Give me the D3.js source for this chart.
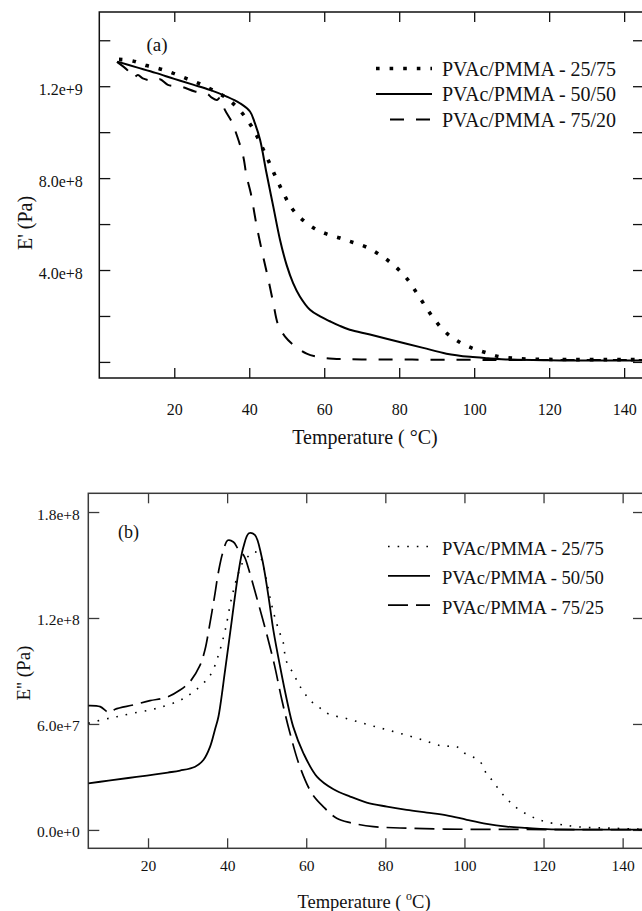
<!DOCTYPE html>
<html>
<head>
<meta charset="utf-8">
<script src="https://cdn.jsdelivr.net/npm/d3@7"></script>
<style>
  body { margin: 0; background: #fff; }
  svg { display: block; }
  text { font-family: "Liberation Serif", "Times New Roman", serif; fill: #111; }
</style>
</head>
<body>
<svg id="chart" width="642" height="911"></svg>
<script>
const SERIF = "'Liberation Serif', 'Times New Roman', serif";

// ---- (a) storage modulus E' (Pa) vs temperature (°C) ----
const tA_25_75 = [5.25, 8.9, 12.6, 16.2, 19.6, 23.3, 26.7, 30.1, 33.8, 37.2, 40.2, 42.1, 43.9, 45.6, 47.3, 49.1, 51.0, 53.7, 57.2, 60.6, 64.2, 67.7, 71.5, 75.1, 78.4, 81.8, 84.4, 86.7, 89.3, 92.3, 95.7, 99.3, 102.8, 106.4, 110, 113.7, 120, 130, 145.3];
const eA_25_75 = [1.317e9, 1.310e9, 1.290e9, 1.275e9, 1.257e9, 1.233e9, 1.211e9, 1.184e9, 1.150e9, 1.100e9, 1.036e9, 0.981e9, 0.919e9, 0.858e9, 0.796e9, 0.735e9, 0.677e9, 0.626e9, 0.583e9, 0.557e9, 0.539e9, 0.520e9, 0.498e9, 0.463e9, 0.423e9, 0.368e9, 0.307e9, 0.249e9, 0.187e9, 0.130e9, 0.090e9, 0.061e9, 0.042e9, 0.024e9, 0.017e9, 0.013e9, 0.011e9, 0.010e9, 0.010e9];

const tA_50_50 = [4.8, 10, 15, 20, 25, 29.5, 34, 37.5, 40.2, 41.5, 42.9, 44.6, 46.4, 48.2, 50, 51.7, 53.5, 56.2, 58.9, 61.5, 64, 66.8, 72.2, 79.3, 86.4, 92.6, 98.9, 103.7, 110, 120, 130, 145.3];
const eA_50_50 = [1.307e9, 1.282e9, 1.258e9, 1.232e9, 1.207e9, 1.184e9, 1.155e9, 1.126e9, 1.090e9, 1.039e9, 0.966e9, 0.822e9, 0.677e9, 0.532e9, 0.420e9, 0.343e9, 0.285e9, 0.227e9, 0.198e9, 0.177e9, 0.158e9, 0.140e9, 0.119e9, 0.090e9, 0.061e9, 0.036e9, 0.022e9, 0.016e9, 0.010e9, 0.007e9, 0.006e9, 0.006e9];

const tA_75_20 = [4.7, 7.7, 9.0, 10.3, 11.6, 14.9, 16.2, 18.3, 22, 25.5, 28.7, 30, 31.4, 32.2, 33.5, 35.3, 36.8, 38.4, 39.3, 40.4, 42, 43.7, 45.1, 46.4, 47.7, 49.5, 51.7, 55.3, 58.9, 62.4, 70, 83.5, 100, 120, 145.3];
const eA_75_20 = [1.306e9, 1.267e9, 1.236e9, 1.249e9, 1.234e9, 1.223e9, 1.230e9, 1.206e9, 1.197e9, 1.177e9, 1.168e9, 1.150e9, 1.140e9, 1.150e9, 1.097e9, 1.046e9, 0.981e9, 0.894e9, 0.807e9, 0.735e9, 0.590e9, 0.459e9, 0.358e9, 0.257e9, 0.162e9, 0.111e9, 0.075e9, 0.036e9, 0.020e9, 0.014e9, 0.011e9, 0.010e9, 0.009e9, 0.008e9, 0.008e9];

const xTicksA = [20, 40, 60, 80, 100, 120, 140];
const yTicksA = [0, 2e8, 4e8, 6e8, 8e8, 1.0e9, 1.2e9, 1.4e9];
const yLabelsA = ["", "", "4.0e+8", "", "8.0e+8", "", "1.2e+9", ""];
const legendA = ["PVAc/PMMA - 25/75", "PVAc/PMMA - 50/50", "PVAc/PMMA - 75/20"];

// ---- (b) loss modulus E'' (Pa) vs temperature (°C) ----
const tB_25_75 = [4.9, 9.1, 12.1, 16, 20.5, 24, 27.3, 29.5, 31.5, 34, 36.1, 37.8, 39.5, 41.2, 42.8, 44.1, 45.4, 46.9, 48.3, 49.6, 51.3, 52.5, 53.4, 54.2, 54.9, 56.7, 58, 59.3, 61.2, 63.4, 65.6, 70.3, 75.3, 79.9, 84.5, 89.6, 94.3, 98, 100.1, 102.7, 104.4, 105.5, 107.1, 108.8, 110.8, 113, 115.6, 117.9, 120.4, 125, 130.1, 136.8, 145.4];
const eB_25_75 = [6.04e7, 6.27e7, 6.41e7, 6.60e7, 6.79e7, 7.00e7, 7.26e7, 7.50e7, 7.83e7, 8.30e7, 8.90e7, 9.90e7, 11.3e7, 13.2e7, 14.5e7, 15.2e7, 15.5e7, 15.75e7, 15.5e7, 14.5e7, 12.7e7, 11.7e7, 11.1e7, 10.6e7, 9.6e7, 8.87e7, 8.30e7, 7.83e7, 7.30e7, 6.92e7, 6.57e7, 6.30e7, 5.98e7, 5.70e7, 5.42e7, 5.09e7, 4.75e7, 4.72e7, 4.34e7, 4.06e7, 3.74e7, 3.21e7, 2.79e7, 2.26e7, 1.74e7, 1.28e7, 0.91e7, 0.66e7, 0.47e7, 0.28e7, 0.15e7, 0.10e7, 0.04e7];

const tB_50_50 = [4.9, 10, 15, 19.7, 25, 28.1, 31.9, 34, 35.7, 36.9, 37.8, 39.5, 41.2, 42.8, 44.1, 45.5, 47, 48.7, 50.4, 51.7, 53.4, 55.1, 56.7, 59.3, 62.7, 66.9, 71.1, 75.3, 80.4, 85.4, 90.5, 95.5, 100.6, 105.6, 110.7, 115.8, 120.8, 130, 145.4];
const eB_50_50 = [2.64e7, 2.79e7, 2.94e7, 3.08e7, 3.25e7, 3.36e7, 3.58e7, 3.96e7, 4.72e7, 5.66e7, 6.41e7, 9.06e7, 11.9e7, 14.5e7, 16.0e7, 16.8e7, 16.7e7, 15.5e7, 13.3e7, 11.3e7, 9.24e7, 7.36e7, 5.85e7, 4.34e7, 3.02e7, 2.30e7, 1.89e7, 1.55e7, 1.32e7, 1.13e7, 0.98e7, 0.83e7, 0.57e7, 0.34e7, 0.19e7, 0.11e7, 0.04e7, 0.02e7, 0.02e7];

const tB_75_25 = [4.9, 7.9, 9.6, 10.6, 11.7, 16.3, 20.5, 24.7, 28.1, 30.6, 33.1, 34.4, 35.5, 36.8, 37.8, 38.9, 40.2, 41.6, 42.8, 44.3, 45.4, 47.3, 50, 52, 53.8, 55.9, 58.4, 61.4, 64.3, 67.7, 71.1, 77, 83.7, 95, 110, 125, 145.4];
const eB_75_25 = [7.04e7, 6.98e7, 6.70e7, 6.66e7, 6.83e7, 7.08e7, 7.32e7, 7.51e7, 7.92e7, 8.39e7, 9.30e7, 10.2e7, 11.5e7, 13.2e7, 14.6e7, 15.7e7, 16.4e7, 16.3e7, 15.9e7, 15.5e7, 14.8e7, 13.3e7, 11.1e7, 9.3e7, 7.4e7, 5.47e7, 3.58e7, 2.08e7, 1.32e7, 0.66e7, 0.41e7, 0.19e7, 0.11e7, 0.05e7, 0.03e7, 0.02e7, 0.02e7];

const xTicksB = [20, 40, 60, 80, 100, 120, 140];
const yTicksB = [0, 6e7, 1.2e8, 1.8e8];
const yLabelsB = ["0.0e+0", "6.0e+7", "1.2e+8", "1.8e+8"];
const legendB = ["PVAc/PMMA - 25/75", "PVAc/PMMA - 50/50", "PVAc/PMMA - 75/25"];

const svg = d3.select("#chart");

function zip(ts, vs) { return ts.map((t, i) => [t, vs[i]]); }

function drawPanel(p) {
  const g = svg.append("g");
  const x = d3.scaleLinear().domain(p.xDomain).range([p.left, p.right]);
  const y = d3.scaleLinear().domain(p.yDomain).range([p.bottom, p.top]);
  const clipId = "clip-" + p.id;

  g.append("clipPath").attr("id", clipId)
    .append("rect")
    .attr("x", p.left).attr("y", p.top)
    .attr("width", p.right - p.left).attr("height", p.bottom - p.top);

  // inward ticks on all four sides
  const fmtY = (d) => p.yLabels[p.yTicks.indexOf(d)];
  const axB = g.append("g").attr("transform", `translate(0,${p.bottom})`)
    .call(d3.axisBottom(x).tickValues(p.xTicks).tickSize(-10).tickPadding(p.xPad).tickFormat(d3.format("d")));
  const axT = g.append("g").attr("transform", `translate(0,${p.top})`)
    .call(d3.axisTop(x).tickValues(p.xTicks).tickSize(-10).tickFormat(""));
  const axL = g.append("g").attr("transform", `translate(${p.left},0)`)
    .call(d3.axisLeft(y).tickValues(p.yTicks).tickSize(-11).tickPadding(p.yPad).tickFormat(fmtY));
  const axR = g.append("g").attr("transform", `translate(${p.right},0)`)
    .call(d3.axisRight(y).tickValues(p.yTicks).tickSize(-11).tickFormat(""));

  [axB, axT, axL, axR].forEach((a) => {
    a.attr("font-family", null);
    a.select(".domain").remove();
    a.selectAll(".tick line").attr("stroke", p.axisColor).attr("stroke-width", 1.3);
    a.selectAll("text").style("font-family", SERIF).attr("fill", "#1a1a1a");
  });
  axB.selectAll("text").attr("font-size", p.tickFont);
  axL.selectAll("text").attr("font-size", p.tickFont).attr("dy", p.yLabelDy);

  // frame
  g.append("rect")
    .attr("x", p.left).attr("y", p.top)
    .attr("width", p.right - p.left).attr("height", p.bottom - p.top)
    .attr("fill", "none").attr("stroke", p.axisColor).attr("stroke-width", 1.5);

  // curves
  const line = d3.line().x((d) => x(d[0])).y((d) => y(d[1])).curve(d3.curveCatmullRom.alpha(0.5));
  const plot = g.append("g").attr("clip-path", `url(#${clipId})`);
  p.series.forEach((s) => {
    plot.append("path")
      .datum(zip(s.t, s.v))
      .attr("d", line)
      .attr("fill", "none")
      .attr("stroke", "#000")
      .attr("stroke-width", s.width)
      .attr("stroke-dasharray", s.dash || null)
      .attr("stroke-linejoin", "round");
  });

  // legend
  const lg = g.append("g");
  p.series.forEach((s, i) => {
    const ly = p.legend.y0 + i * p.legend.dy;
    lg.append("line")
      .attr("x1", s.legendX1 !== undefined ? s.legendX1 : p.legend.x1)
      .attr("x2", p.legend.x2)
      .attr("y1", ly).attr("y2", ly)
      .attr("stroke", "#000")
      .attr("stroke-width", s.width)
      .attr("stroke-dasharray", s.dash || null);
    lg.append("text")
      .attr("x", p.legend.tx).attr("y", ly + p.legend.textDy)
      .attr("font-size", p.legend.font)
      .style("font-family", SERIF)
      .text(p.legend.labels[i]);
  });

  // panel tag
  g.append("text").attr("x", p.tag.x).attr("y", p.tag.y)
    .attr("font-size", p.tag.size).style("font-family", SERIF).text(p.tag.text);

  return { g, x, y };
}

// panel (a)
const pa = drawPanel({
  id: "a",
  left: 99.3, right: 644, top: 12, bottom: 378,
  xDomain: [0, 145.3], yDomain: [-0.7e8, 1.523e9],
  xTicks: xTicksA, yTicks: yTicksA, yLabels: yLabelsA,
  xPad: 26, yPad: 16.5, yLabelDy: "0.52em", tickFont: 16,
  axisColor: "#111",
  series: [
    { t: tA_25_75, v: eA_25_75, width: 3.6, dash: "3.6,10" },
    { t: tA_50_50, v: eA_50_50, width: 2 },
    { t: tA_75_20, v: eA_75_20, width: 2, dash: "14,12", legendX1: 390 }
  ],
  legend: { x1: 376, x2: 432, y0: 68.5, dy: 25.5, tx: 442, textDy: 7, font: 20, labels: legendA },
  tag: { x: 146.5, y: 51, size: 19, text: "(a)" }
});

pa.g.append("text")
  .attr("x", 365).attr("y", 443.5)
  .attr("text-anchor", "middle").attr("font-size", 20)
  .style("font-family", SERIF)
  .text("Temperature ( \u00B0C)");
pa.g.append("text")
  .attr("transform", "translate(32,223) rotate(-90)")
  .attr("text-anchor", "middle").attr("font-size", 20)
  .style("font-family", SERIF)
  .text("E' (Pa)");

// panel (b)
const pb = drawPanel({
  id: "b",
  left: 88.3, right: 644, top: 493.3, bottom: 848.3,
  xDomain: [4.9, 145.4], yDomain: [-1.04e7, 1.906e8],
  xTicks: xTicksB, yTicks: yTicksB, yLabels: yLabelsB,
  xPad: 12, yPad: 8.5, yLabelDy: "0.45em", tickFont: 15.5,
  axisColor: "#3a3a3a",
  series: [
    { t: tB_25_75, v: eB_25_75, width: 1.6, dash: "1.6,8" },
    { t: tB_50_50, v: eB_50_50, width: 1.8 },
    { t: tB_75_25, v: eB_75_25, width: 1.7, dash: "20,8" }
  ],
  legend: { x1: 388, x2: 430, y0: 546.5, dy: 29.3, tx: 442, textDy: 8.5, font: 18.6, labels: legendB },
  tag: { x: 118, y: 538, size: 18, text: "(b)" }
});

const tb = pb.g.append("text")
  .attr("x", 364).attr("y", 908)
  .attr("text-anchor", "middle").attr("font-size", 18.5)
  .style("font-family", SERIF);
tb.append("tspan").text("Temperature ( ");
tb.append("tspan").attr("font-size", 12).attr("dy", -8).text("o");
tb.append("tspan").attr("dy", 8).text("C)");
pb.g.append("text")
  .attr("transform", "translate(30,673) rotate(-90)")
  .attr("text-anchor", "middle").attr("font-size", 19)
  .style("font-family", SERIF)
  .text("E'' (Pa)");
</script>
</body>
</html>
